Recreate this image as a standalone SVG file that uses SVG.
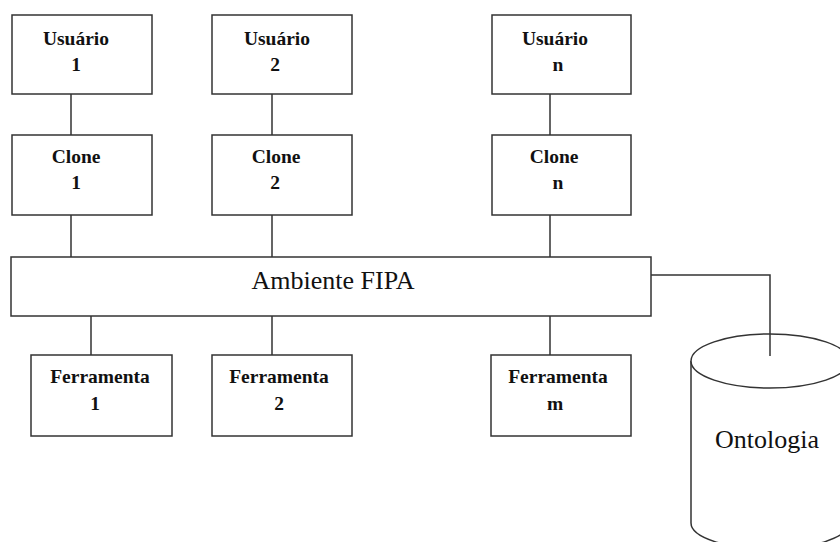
<svg xmlns="http://www.w3.org/2000/svg" width="840" height="542" viewBox="0 0 840 542">
<style>
.box{fill:#fff;stroke:#333;stroke-width:1.5}
.ln{fill:none;stroke:#333;stroke-width:1.5}
.lbl{font-family:'Liberation Serif','Times New Roman','DejaVu Serif',serif;font-weight:bold;font-size:19.5px;fill:#111;text-anchor:middle}
.big{font-family:'Liberation Serif','Times New Roman','DejaVu Serif',serif;font-size:26px;fill:#111;text-anchor:middle}
</style>
<rect width="840" height="542" fill="#fff"/>
<g id="connectors">
<path class="ln" d="M71 94V135M272 94V135M550 94V135"/>
<path class="ln" d="M71 215V257M272 215V257M550 215V257"/>
<path class="ln" d="M91 316V355M272 316V355M550 316V355"/>
<path class="ln" d="M651 275H770V356"/>
</g>
<g id="usuario1"><rect class="box" x="12" y="15" width="140" height="79"/><text class="lbl" x="76" y="45">Usuário</text><text class="lbl" x="76" y="71">1</text></g>
<g id="usuario2"><rect class="box" x="212" y="15" width="140" height="79"/><text class="lbl" x="277" y="45">Usuário</text><text class="lbl" x="275" y="71">2</text></g>
<g id="usuarion"><rect class="box" x="492" y="15" width="139" height="79"/><text class="lbl" x="555" y="45">Usuário</text><text class="lbl" x="558" y="71">n</text></g>
<g id="clone1"><rect class="box" x="12" y="135" width="140" height="80"/><text class="lbl" x="76" y="163">Clone</text><text class="lbl" x="76" y="189">1</text></g>
<g id="clone2"><rect class="box" x="212" y="135" width="140" height="80"/><text class="lbl" x="276" y="163">Clone</text><text class="lbl" x="275" y="189">2</text></g>
<g id="clonen"><rect class="box" x="492" y="135" width="139" height="80"/><text class="lbl" x="554" y="163">Clone</text><text class="lbl" x="558" y="189">n</text></g>
<g id="ambiente"><rect class="box" x="11" y="257" width="640" height="59"/><text class="big" x="333" y="289">Ambiente FIPA</text></g>
<g id="ferramenta1"><rect class="box" x="31" y="355" width="141" height="81"/><text class="lbl" x="100" y="383">Ferramenta</text><text class="lbl" x="95" y="410">1</text></g>
<g id="ferramenta2"><rect class="box" x="212" y="355" width="140" height="81"/><text class="lbl" x="279" y="383">Ferramenta</text><text class="lbl" x="279" y="410">2</text></g>
<g id="ferramentam"><rect class="box" x="491" y="355" width="140" height="81"/><text class="lbl" x="558" y="383">Ferramenta</text><text class="lbl" x="555" y="410">m</text></g>
<g id="ontologia">
<path class="box" d="M691 361V523A79 26 0 0 0 849 523V361"/>
<ellipse class="box" cx="770" cy="361" rx="79" ry="27"/>
<path class="ln" d="M770 334V356"/>
<text class="big" x="767" y="448">Ontologia</text>
</g>
</svg>
